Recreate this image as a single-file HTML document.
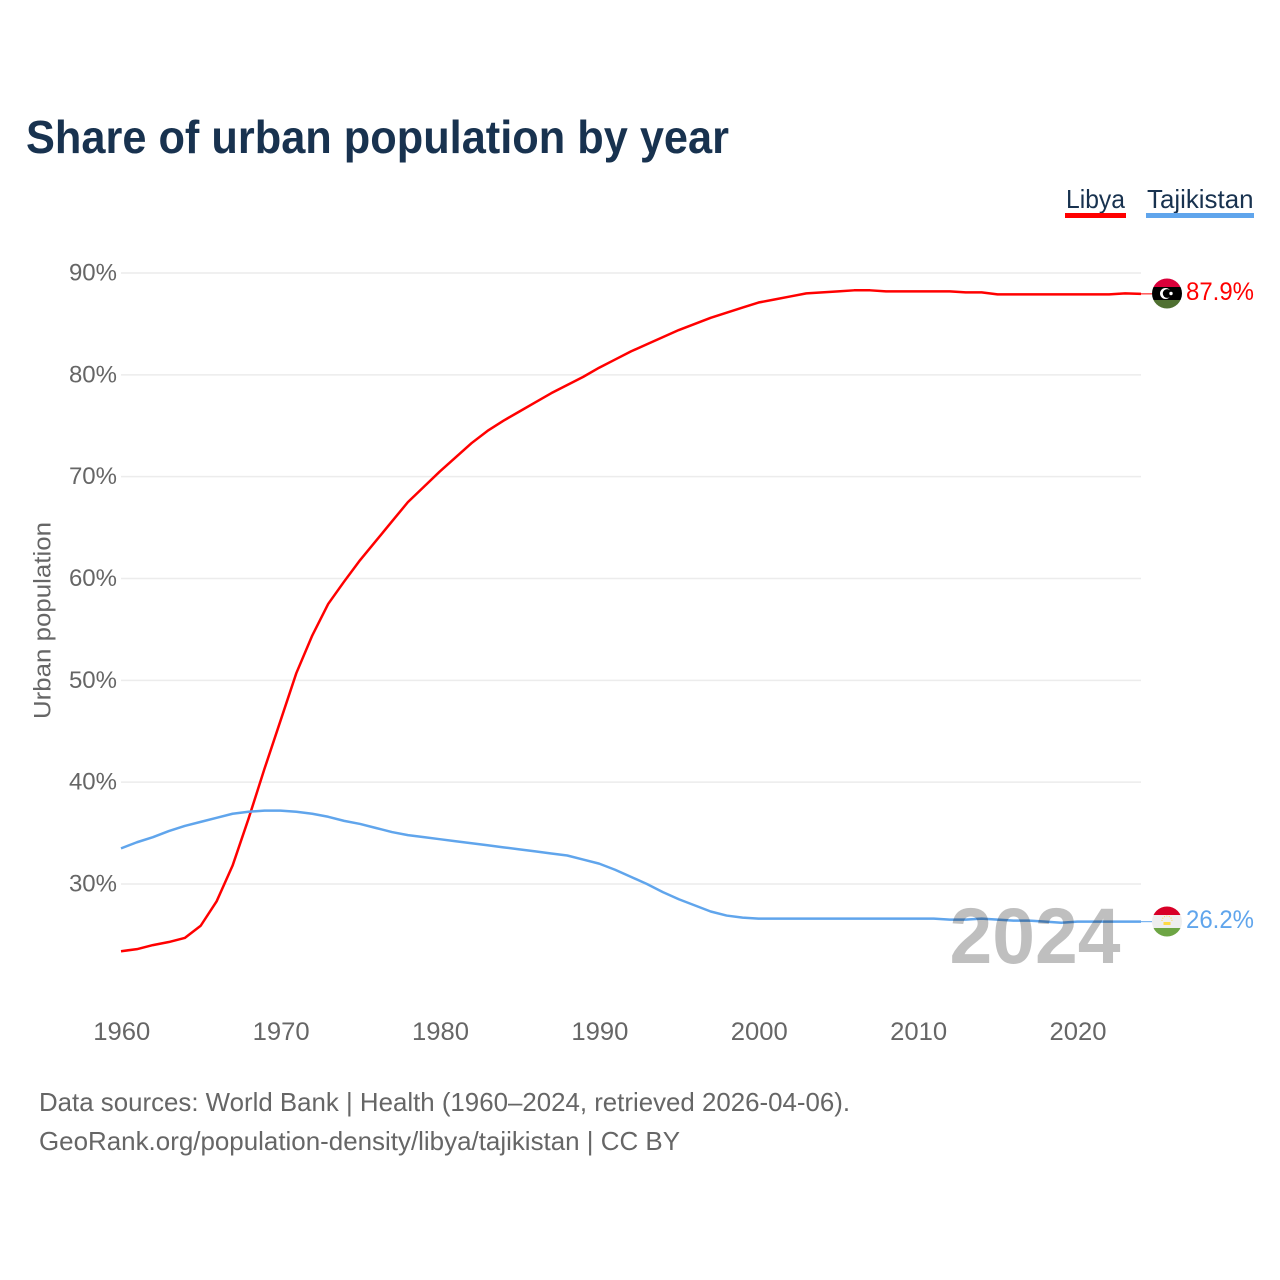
<!DOCTYPE html>
<html lang="en">
<head>
<meta charset="utf-8">
<title>Share of urban population by year</title>
<style>
html,body{margin:0;padding:0;background:#fff;width:1280px;height:1280px;overflow:hidden}
svg{display:block;font-family:"Liberation Sans",sans-serif}
</style>
</head>
<body>
<svg id="chart" width="1280" height="1280" viewBox="0 0 1280 1280" xmlns="http://www.w3.org/2000/svg">
  <defs>
    <clipPath id="flag-clip-libya"><circle cx="1167" cy="293.5" r="15"/></clipPath>
    <clipPath id="flag-clip-tajikistan"><circle cx="1167" cy="921.5" r="15"/></clipPath>
  </defs>
  <rect width="1280" height="1280" fill="#fff"/>
  <text x="26" y="153" font-size="46" font-weight="700" fill="#18324f" textLength="703" lengthAdjust="spacingAndGlyphs">Share of urban population by year</text>

  <g>
    <g>
      <text x="1066" y="208" font-size="26" fill="#18324f" textLength="59" lengthAdjust="spacingAndGlyphs">Libya</text>
      <rect x="1065" y="213" width="61" height="5" fill="#ff0000"/>
    </g>
    <g>
      <text x="1147" y="208" font-size="26" fill="#18324f" textLength="106.5" lengthAdjust="spacingAndGlyphs">Tajikistan</text>
      <rect x="1146" y="213" width="108" height="5" fill="#60a5ec"/>
    </g>
  </g>

  <g id="grid"></g>
  <g id="y-ticks"></g>
  <g id="x-ticks"></g>
  <text transform="translate(50.5,719) rotate(-90)" font-size="24" fill="#666" textLength="197" lengthAdjust="spacingAndGlyphs">Urban population</text>

  <g id="lines"></g>

  <g clip-path="url(#flag-clip-libya)">
    <rect x="1152" y="278" width="30" height="9" fill="#d9003a"/>
    <rect x="1152" y="287" width="30" height="13" fill="#000"/>
    <rect x="1152" y="300" width="30" height="9" fill="#4f7031"/>
    <circle cx="1165.5" cy="293.5" r="5.5" fill="#fff"/>
    <circle cx="1167.2" cy="293.5" r="4.4" fill="#000"/>
    <circle cx="1171" cy="293.5" r="1.7" fill="#fff"/>
  </g>
  <g clip-path="url(#flag-clip-tajikistan)">
    <rect x="1152" y="906" width="30" height="9" fill="#d80027"/>
    <rect x="1152" y="915" width="30" height="13" fill="#eeeeee"/>
    <rect x="1152" y="928" width="30" height="10" fill="#6da544"/>
    <rect x="1163.5" y="922" width="7" height="3" fill="#ffda44"/>
    <path d="M1162 921 A5 5 0 0 1 1172 921" fill="none" stroke="#ffda44" stroke-width="1" stroke-dasharray="1 1.4"/>
  </g>
  <text id="label-libya" x="1186" y="300" font-size="25" fill="#ff0000" textLength="68" lengthAdjust="spacingAndGlyphs"></text>
  <text id="label-tajikistan" x="1186" y="928" font-size="25" fill="#60a5ec" textLength="68" lengthAdjust="spacingAndGlyphs"></text>

  <text x="949.5" y="963" font-size="79" font-weight="700" fill="#000" fill-opacity="0.25" textLength="171" lengthAdjust="spacingAndGlyphs">2024</text>

  <text x="39" y="1111" font-size="26" fill="#666" textLength="811" lengthAdjust="spacingAndGlyphs">Data sources: World Bank | Health (1960–2024, retrieved 2026-04-06).</text>
  <text x="39" y="1150" font-size="26" fill="#666" textLength="641" lengthAdjust="spacingAndGlyphs">GeoRank.org/population-density/libya/tajikistan | CC BY</text>
</svg>
<script>
const years = [1960,1961,1962,1963,1964,1965,1966,1967,1968,1969,1970,1971,1972,1973,1974,1975,1976,1977,1978,1979,1980,1981,1982,1983,1984,1985,1986,1987,1988,1989,1990,1991,1992,1993,1994,1995,1996,1997,1998,1999,2000,2001,2002,2003,2004,2005,2006,2007,2008,2009,2010,2011,2012,2013,2014,2015,2016,2017,2018,2019,2020,2021,2022,2023,2024];
const libyaValues = [23.4,23.6,24.0,24.3,24.7,25.9,28.3,31.8,36.4,41.3,46.0,50.7,54.4,57.5,59.7,61.8,63.7,65.6,67.5,69.0,70.5,71.9,73.3,74.5,75.5,76.4,77.3,78.2,79.0,79.8,80.7,81.5,82.3,83.0,83.7,84.4,85.0,85.6,86.1,86.6,87.1,87.4,87.7,88.0,88.1,88.2,88.3,88.3,88.2,88.2,88.2,88.2,88.2,88.1,88.1,87.9,87.9,87.9,87.9,87.9,87.9,87.9,87.9,88.0,87.95];
const tajikistanValues = [33.5,34.1,34.6,35.2,35.7,36.1,36.5,36.9,37.1,37.2,37.2,37.1,36.9,36.6,36.2,35.9,35.5,35.1,34.8,34.6,34.4,34.2,34.0,33.8,33.6,33.4,33.2,33.0,32.8,32.4,32.0,31.4,30.7,30.0,29.2,28.5,27.9,27.3,26.9,26.7,26.6,26.6,26.6,26.6,26.6,26.6,26.6,26.6,26.6,26.6,26.6,26.6,26.5,26.5,26.6,26.5,26.4,26.4,26.3,26.2,26.3,26.3,26.3,26.3,26.3];
const yTickValues = [30,40,50,60,70,80,90];
const xTickValues = [1960,1970,1980,1990,2000,2010,2020];
const libyaLabel = "87.9%";
const tajikistanLabel = "26.2%";

const NS = "http://www.w3.org/2000/svg";
const xOf = function (year) { return 121 + (year - 1960) * (1141 - 121) / (2024 - 1960); };
const yOf = function (value) { return 884 - (value - 30) * (884 - 273) / 60; };

const gridGroup = document.getElementById("grid");
const yTickGroup = document.getElementById("y-ticks");
const xTickGroup = document.getElementById("x-ticks");
const lineGroup = document.getElementById("lines");

yTickValues.forEach(function (v) {
  const rule = document.createElementNS(NS, "line");
  
  
  rule.setAttribute("x1", xOf(1960));
  rule.setAttribute("x2", xOf(2024));
  rule.setAttribute("y1", yOf(v));
  rule.setAttribute("y2", yOf(v));
  rule.setAttribute("stroke", "#ececec");
  rule.setAttribute("stroke-width", "1.5");
  gridGroup.appendChild(rule);

  const label = document.createElementNS(NS, "text");
  
  
  label.setAttribute("x", 117);
  label.setAttribute("y", yOf(v) + 7.5);
  label.setAttribute("text-anchor", "end");
  label.setAttribute("font-size", "24");
  label.setAttribute("fill", "#666");
  label.textContent = v + "%";
  yTickGroup.appendChild(label);
});

xTickValues.forEach(function (y) {
  const label = document.createElementNS(NS, "text");
  
  
  label.setAttribute("x", xOf(y) + 0.8);
  label.setAttribute("y", 1040);
  label.setAttribute("text-anchor", "middle");
  label.setAttribute("font-size", "25");
  label.setAttribute("fill", "#666");
  label.setAttribute("textLength", "57");
  label.setAttribute("lengthAdjust", "spacingAndGlyphs");
  label.textContent = y;
  xTickGroup.appendChild(label);
});

function pathFrom(values) {
  return values.map(function (v, i) {
    return (i ? "L" : "M") + xOf(years[i]).toFixed(2) + " " + yOf(v).toFixed(2);
  }).join("");
}

const libyaLine = document.createElementNS(NS, "path");


libyaLine.setAttribute("d", pathFrom(libyaValues));
libyaLine.setAttribute("fill", "none");
libyaLine.setAttribute("stroke", "#ff0000");
libyaLine.setAttribute("stroke-width", "2.5");
libyaLine.setAttribute("stroke-linejoin", "round");
lineGroup.appendChild(libyaLine);

const tajikistanLine = document.createElementNS(NS, "path");


tajikistanLine.setAttribute("d", pathFrom(tajikistanValues));
tajikistanLine.setAttribute("fill", "none");
tajikistanLine.setAttribute("stroke", "#60a5ec");
tajikistanLine.setAttribute("stroke-width", "2.5");
tajikistanLine.setAttribute("stroke-linejoin", "round");
lineGroup.appendChild(tajikistanLine);

const libyaLeader = document.createElementNS(NS, "line");


libyaLeader.setAttribute("x1", xOf(2024));
libyaLeader.setAttribute("x2", 1152);
libyaLeader.setAttribute("y1", yOf(libyaValues[libyaValues.length - 1]));
libyaLeader.setAttribute("y2", yOf(libyaValues[libyaValues.length - 1]));
libyaLeader.setAttribute("stroke", "#ff0000");
libyaLeader.setAttribute("stroke-width", "1");
lineGroup.appendChild(libyaLeader);

const tajikistanLeader = document.createElementNS(NS, "line");


tajikistanLeader.setAttribute("x1", xOf(2024));
tajikistanLeader.setAttribute("x2", 1152);
tajikistanLeader.setAttribute("y1", yOf(tajikistanValues[tajikistanValues.length - 1]));
tajikistanLeader.setAttribute("y2", yOf(tajikistanValues[tajikistanValues.length - 1]));
tajikistanLeader.setAttribute("stroke", "#60a5ec");
tajikistanLeader.setAttribute("stroke-width", "1");
lineGroup.appendChild(tajikistanLeader);

document.getElementById("label-libya").textContent = libyaLabel;
document.getElementById("label-tajikistan").textContent = tajikistanLabel;
</script>
</body>
</html>
